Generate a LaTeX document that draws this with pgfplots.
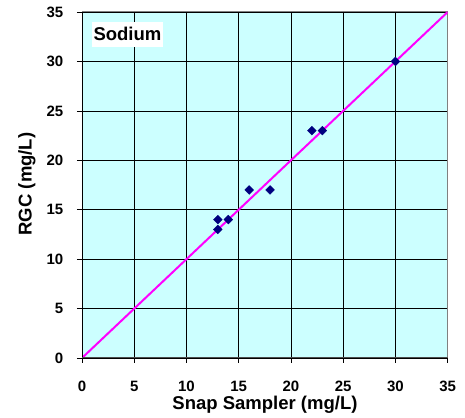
\documentclass[border=0pt]{standalone}
\usepackage{pgfplots}
\pgfplotsset{compat=1.18}
\usepackage{fontspec}
\setmainfont{Liberation Sans}
\definecolor{plotbg}{HTML}{CCFFFF}
\definecolor{navy}{HTML}{000080}
\definecolor{framegray}{HTML}{808080}
\definecolor{oneline}{HTML}{FF00FF}
\begin{document}
\bfseries
\begin{tikzpicture}
\useasboundingbox (0pt,0pt) rectangle (465pt,417pt);
\begin{axis}[
  at={(82pt,59pt)}, anchor=south west,
  scale only axis,
  width=365.7pt, height=346pt,
  xmin=0, xmax=35, ymin=0, ymax=35,
  xtick distance=5, ytick distance=5,
  axis background/.style={fill=plotbg},
  axis line style={framegray, line width=1pt},
  grid=major,
  major grid style={black, line width=0.7pt},
  tick align=outside,
  xtick pos=bottom, ytick pos=left,
  major tick length=5pt,
  tick style={black, line width=0.7pt},
  /pgf/number format/assume math mode=true,
  ticklabel style={font=\fontsize{15}{18}\selectfont\bfseries, inner sep=0pt},
  xticklabel style={anchor=north, yshift=-18pt},
  yticklabel style={anchor=east, xshift=-13.5pt},
]
\addplot[oneline, line width=2pt, no marks] coordinates {(0,0) (35,35)};
\addplot[only marks, mark=square*, mark size=3.1pt, navy,
  mark options={rotate=45, fill=navy}] coordinates {
  (13,13) (13,14) (14,14) (16,17) (18,17) (22,23) (23,23) (30,30)};
\draw[black, line width=1pt] (axis cs:0,0) -- (axis cs:0,35);
\draw[black!70, line width=1.4pt] (axis cs:0,0) -- (axis cs:35,0);
\node[fill=white, inner xsep=1.5pt, inner ysep=0pt, minimum height=25pt,
  font=\fontsize{18.5}{22}\selectfont\bfseries] at (axis cs:4.35,32.75) {Sodium};
\end{axis}
\node[anchor=base, font=\fontsize{18.5}{22}\selectfont\bfseries] at (265pt,8pt) {Snap Sampler (mg/L)};
\node[anchor=base, rotate=90, font=\fontsize{18.5}{22}\selectfont\bfseries] at (31.7pt,233pt) {RGC (mg/L)};
\end{tikzpicture}
\end{document}
